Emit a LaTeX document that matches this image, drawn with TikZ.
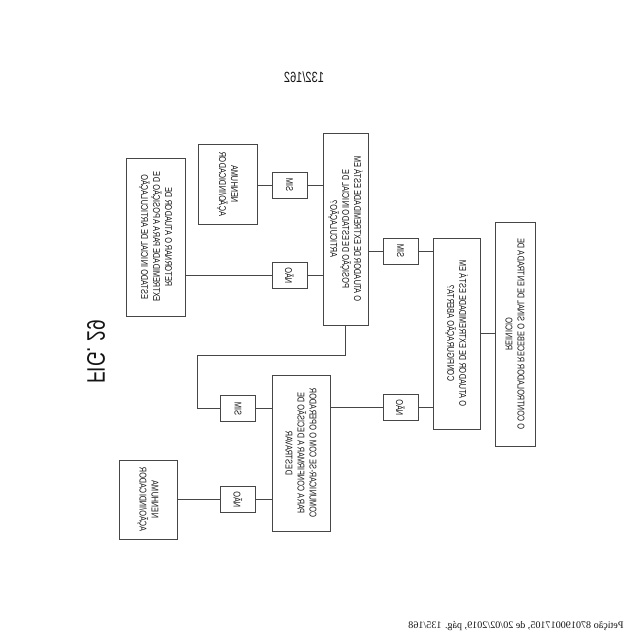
\documentclass[tikz,border=0pt]{standalone}
\usepackage{fontspec}
\usepackage{tikz}
\usetikzlibrary{calc}
\newfontfamily\boxfont[FakeStretch=0.75]{Liberation Sans}
\newfontfamily\footfont{Liberation Serif}
\definecolor{scanline}{RGB}{70,70,70}
\definecolor{scantext}{RGB}{20,20,20}

\tikzset{
  caixa/.style={draw=scanline, line width=0.6pt, fill=white, rotate=90, align=center,
    inner sep=1pt, text=scantext, font=\boxfont\fontsize{7}{8.5}\selectfont},
  resposta/.style={caixa, minimum width=0.65cm, minimum height=0.875cm},
  liga/.style={draw=scanline, line width=0.6pt},
}

\begin{document}
\begin{tikzpicture}[x=-0.025cm, y=-0.025cm, xscale=-1, transform shape]
        \useasboundingbox (0,0) rectangle (640,640);
        % pagina espelhada
        \node[text=scantext, font=\boxfont\fontsize{10.5}{12}\selectfont] (pagina) at (304,77) {132/162};
        \node[rotate=90, text=scantext, font=\boxfont\fontsize{18}{20}\selectfont] (fig) at (96,352) {FIG. 29};
        \node[text=scantext, font=\footfont\fontsize{7.2}{8}\selectfont] (peticao) at (516,626) {Petição 870190017105, de 20/02/2019, pág. 135/168};
        % caixas
        \node[caixa, minimum width=5.6cm, minimum height=1.0cm] (inicio) at (515,334)
            {O CONTROLADOR RECEBE O SINAL DE ENTRADA DE\\REINICIO};
        \node[caixa, minimum width=4.775cm, minimum height=1.175cm] (aberta) at (456.5,333.5)
            {O ATUADOR DE EXTREMIDADE ESTÁ EM\\CONFIGURAÇÃO ABERTA?};
        \node[caixa, minimum width=4.8cm, minimum height=1.125cm] (estado) at (345.5,229)
            {O ATUADOR DE EXTREMIDADE ESTÁ EM\\POSIÇÃO DE ESTADO INICIAL DE\\ARTICULAÇÃO?};
        \node[caixa, minimum width=3.95cm, minimum height=1.475cm] (retornar) at (155.5,237)
            {RETORNAR O ATUADOR DE\\EXTREMIDADE PARA A POSIÇÃO DE\\ESTADO INICIAL DE ARTICULAÇÃO};
        \node[caixa, minimum width=2.0cm, minimum height=1.475cm] (nenhumaA) at (227.5,184)
            {NENHUMA\\AÇÃO/INDICADOR};
        \node[caixa, minimum width=3.9cm, minimum height=1.45cm] (comunicar) at (301,453)
            {COMUNICAR-SE COM O OPERADOR\\PARA CONFIRMAR A DECISÃO DE\\DESTRAVAR};
        \node[caixa, minimum width=1.975cm, minimum height=1.45cm] (nenhumaB) at (148,499.5)
            {NENHUMA\\AÇÃO/INDICADOR};
        % respostas
        \node[resposta] (simA) at (400.5,251) {SIM};
        \node[resposta] (naoA) at (400.5,407.5) {NÃO};
        \node[resposta] (simB) at (289.5,185) {SIM};
        \node[resposta] (naoB) at (289.5,275.5) {NÃO};
        \node[resposta] (simC) at (238,408.5) {SIM};
        \node[resposta] (naoC) at (238,499.5) {NÃO};
        \coordinate (volta) at (197,355);
        % ligacoes
        \draw[liga] (aberta.north) -- (aberta.north -| inicio.south);
        \draw[liga] (simA.north) -- (simA.north -| aberta.south);
        \draw[liga] (simA.south) -- (simA.south -| estado.north);
        \draw[liga] (naoA.north) -- (naoA.north -| aberta.south);
        \draw[liga] (naoA.south) -- (naoA.south -| comunicar.north);
        \draw[liga] (simB.north) -- (simB.north -| estado.south);
        \draw[liga] (simB.south) -- (simB.south -| nenhumaA.north);
        \draw[liga] (naoB.north) -- (naoB.north -| estado.south);
        \draw[liga] (naoB.south) -- (naoB.south -| retornar.north);
        \draw[liga] (simC.north) -- (simC.north -| comunicar.south);
        \draw[liga] (simC.south) -| (volta) -| (estado.west);
        \draw[liga] (naoC.north) -- (naoC.north -| comunicar.south);
        \draw[liga] (naoC.south) -- (naoC.south -| nenhumaB.north);
    \end{tikzpicture}
\end{document}
